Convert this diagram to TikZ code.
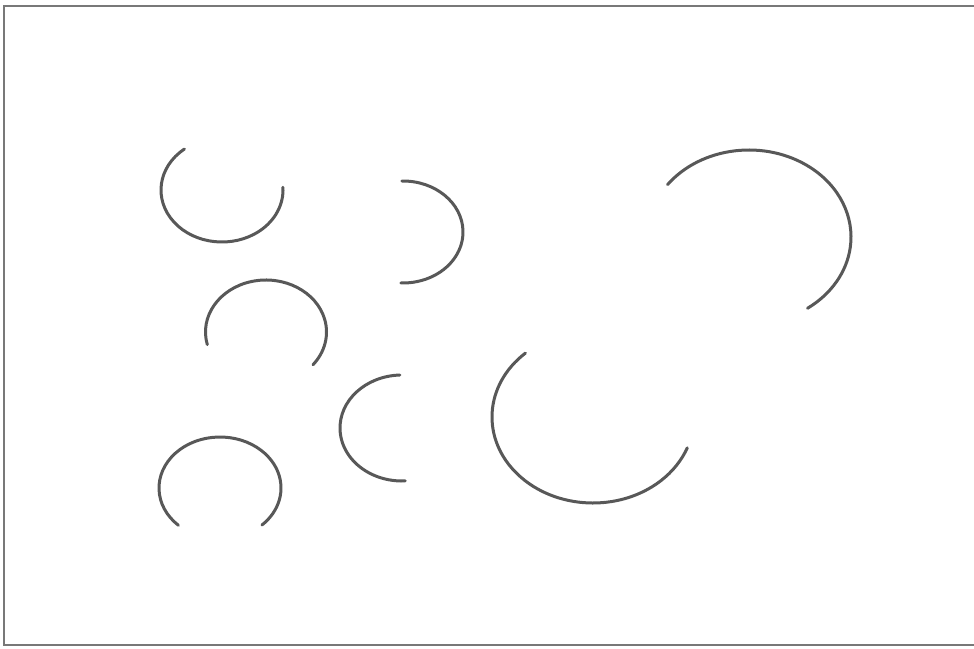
\documentclass[tikz,border=0pt]{standalone}
\usepackage{tikz}
\definecolor{ArcGray}{RGB}{88,88,88}
\definecolor{FrameGray}{RGB}{120,120,120}
\tikzset{
  arcline/.style={draw=ArcGray, line width=3pt, line cap=round},
  frameline/.style={draw=FrameGray, line width=2pt}
}

\begin{document}
\begin{tikzpicture}[x=1pt, y=-1pt]
  \useasboundingbox (0,0) rectangle (974,648);

  % frame
  \coordinate (tr) at (974,6);
  \coordinate (tl) at (4,6);
  \coordinate (bl) at (4,645);
  \coordinate (br) at (974,645);
  \draw[frameline] (tr) -- (tl) -- (bl) -- (br);

  % centres of the arcs
  \coordinate (c1) at (222,190);
  \coordinate (c2) at (403,232);
  \coordinate (c3) at (266,332);
  \coordinate (c4) at (402,428);
  \coordinate (c5) at (220,488);
  \coordinate (c6) at (593,417);
  \coordinate (c7) at (749,237);

  % small arcs
  \draw[arcline] ([shift={(128:61pt and 52pt)}]c1) arc[start angle=128, end angle=363, x radius=61pt, y radius=52pt];
  \draw[arcline] ([shift={(91:60pt and 51pt)}]c2) arc[start angle=91, end angle=-92, x radius=60pt, y radius=51pt];
  \draw[arcline] ([shift={(194:60.5pt and 52pt)}]c3) arc[start angle=194, end angle=-39, x radius=60.5pt, y radius=52pt];
  \draw[arcline] ([shift={(92:62pt and 53pt)}]c4) arc[start angle=92, end angle=273, x radius=62pt, y radius=53pt];
  \draw[arcline] ([shift={(227:61pt and 51pt)}]c5) arc[start angle=227, end angle=-46.5, x radius=61pt, y radius=51pt];

  % large arcs
  \draw[arcline] ([shift={(132:101pt and 86pt)}]c6) arc[start angle=132, end angle=339, x radius=101pt, y radius=86pt];
  \draw[arcline] ([shift={(143:102pt and 87pt)}]c7) arc[start angle=143, end angle=-55, x radius=102pt, y radius=87pt];
\end{tikzpicture}
\end{document}
